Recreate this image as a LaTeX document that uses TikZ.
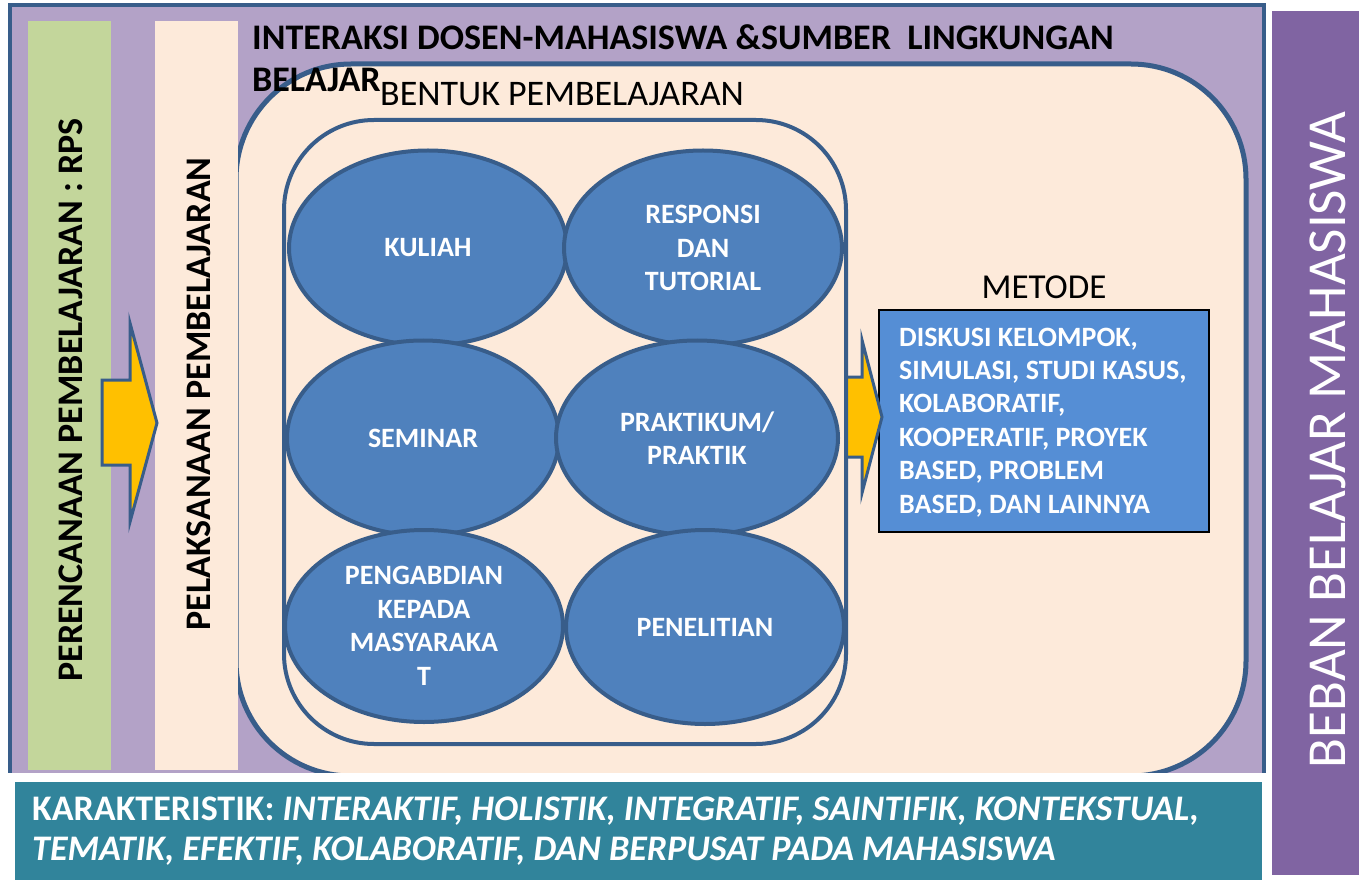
\documentclass[tikz,border=0pt]{standalone}
\usepackage{fontspec}
\setmainfont{Carlito}
\usetikzlibrary{shapes.geometric}

\definecolor{framepurple}{HTML}{B3A2C7}
\definecolor{edgeblue}{HTML}{385D8A}
\definecolor{planGreen}{HTML}{C3D69B}
\definecolor{peach}{HTML}{FDEADA}
\definecolor{ovalblue}{HTML}{4F81BD}
\definecolor{methodblue}{HTML}{558ED5}
\definecolor{arrowgold}{HTML}{FFC000}
\definecolor{karaTeal}{HTML}{31849B}
\definecolor{loadpurple}{HTML}{8064A2}

\begin{document}
\begin{tikzpicture}[x=1pt,y=-1pt,
  oval/.style={ellipse, draw=edgeblue, line width=4pt, fill=ovalblue,
    text=white, font=\fontsize{28}{33.5}\selectfont\bfseries, align=center,
    inner sep=0pt, minimum width=278pt, minimum height=195pt},
  blockarrow/.style={draw=edgeblue, line width=3pt, fill=arrowgold, line join=miter},
  headtext/.style={inner sep=0pt, font=\fontsize{36}{42}\selectfont\bfseries},
  sidetext/.style={inner sep=0pt, rotate=90, anchor=base, font=\fontsize{36}{42}\selectfont\bfseries},
  methodline/.style={inner sep=0pt, anchor=base west, text=white, font=\fontsize{28}{33}\selectfont\bfseries},
  karaline/.style={inner sep=0pt, anchor=base west, text=white, font=\fontsize{36}{40}\selectfont\bfseries}
]
\useasboundingbox (0,0) rectangle (1359,882);
\fill[white] (0,0) rectangle (1359,882);

% outer frame of the learning interaction
\draw[line width=4pt, draw=edgeblue, fill=framepurple] (10,5) rectangle (1264,790);

% planning bar
\fill[planGreen] (28,21) rectangle (111,770);

% learning environment panel
\draw[line width=5pt, draw=edgeblue, fill=peach, rounded corners=115pt] (236,64) rectangle (1246,776);

% execution bar
\fill[peach] (155,21) rectangle (238,770);

% method box
\node[draw=black, line width=1.5pt, fill=methodblue, minimum width=330pt, minimum height=222pt,
  inner sep=0pt] (metodebox) at (1044,421) {};

% arrow from the forms of learning to the methods
\draw[blockarrow] (846,377) -- (862,377) -- (862,340) -- (882,417) -- (862,493) -- (862,457) -- (846,457) -- cycle;

% container of learning forms
\draw[line width=4pt, draw=edgeblue, fill=peach, rounded corners=90pt] (284,120) rectangle (846,744);

% learning forms
\node[oval] (kuliah) at (428,248) {KULIAH};
\node[oval] (responsi) at (703,248) {RESPONSI\\DAN\\TUTORIAL};
\node[oval, minimum width=272pt] (seminar) at (423,438) {SEMINAR};
\node[oval, minimum width=282pt] (praktikum) at (697,438) {PRAKTIKUM/\\PRAKTIK};
\node[oval, minimum height=192pt] (pengabdian) at (424,626) {PENGABDIAN\\KEPADA\\MASYARAKA\\T};
\node[oval, minimum height=194pt] (penelitian) at (705,627) {PENELITIAN};

% arrow from planning to execution
\draw[blockarrow] (102,380) -- (130,380) -- (130,323) -- (157,423) -- (130,522) -- (130,465) -- (102,465) -- cycle;

% headings
\node[headtext, anchor=base west] (title1) at (252,50) {INTERAKSI DOSEN-MAHASISWA \&SUMBER\ \ LINGKUNGAN};
\node[headtext, anchor=base west] (title2) at (252,92) {BELAJAR};
\node[inner sep=0pt, anchor=base west, font=\fontsize{36}{42}\selectfont] (bentuk) at (380,106) {BENTUK PEMBELAJARAN};
\node[inner sep=0pt, anchor=base, font=\fontsize{35}{42}\selectfont] (metode) at (1044,299) {METODE};

% vertical labels
\node[sidetext] (perencanaan) at (82,400) {PERENCANAAN PEMBELAJARAN : RPS};
\node[sidetext] (pelaksanaan) at (210,394) {PELAKSANAAN PEMBELAJARAN};

% method list
\node[methodline] (m1) at (899,346) {DISKUSI KELOMPOK,};
\node[methodline] (m2) at (899,379.4) {SIMULASI, STUDI KASUS,};
\node[methodline] (m3) at (899,412.8) {KOLABORATIF,};
\node[methodline] (m4) at (899,446.2) {KOOPERATIF, PROYEK};
\node[methodline] (m5) at (899,479.6) {BASED, PROBLEM};
\node[methodline] (m6) at (899,513) {BASED, DAN LAINNYA};

% characteristics strip
\fill[white] (7,773) rectangle (1268,882);
\fill[karaTeal] (15,782) rectangle (1262,880);
\node[karaline] (kara1) at (32,820) {KARAKTERISTIK: \itshape INTERAKTIF, HOLISTIK, INTEGRATIF, SAINTIFIK, KONTEKSTUAL,};
\node[karaline] (kara2) at (32,860) {\itshape TEMATIK, EFEKTIF, KOLABORATIF, DAN BERPUSAT PADA MAHASISWA};

% student workload bar
\fill[loadpurple] (1272,11) rectangle (1359,875);
\node[inner sep=0pt, rotate=90, anchor=base, text=white, font=\fontsize{55}{60}\selectfont] (beban) at (1345,440) {BEBAN BELAJAR MAHASISWA};
\end{tikzpicture}
\end{document}
